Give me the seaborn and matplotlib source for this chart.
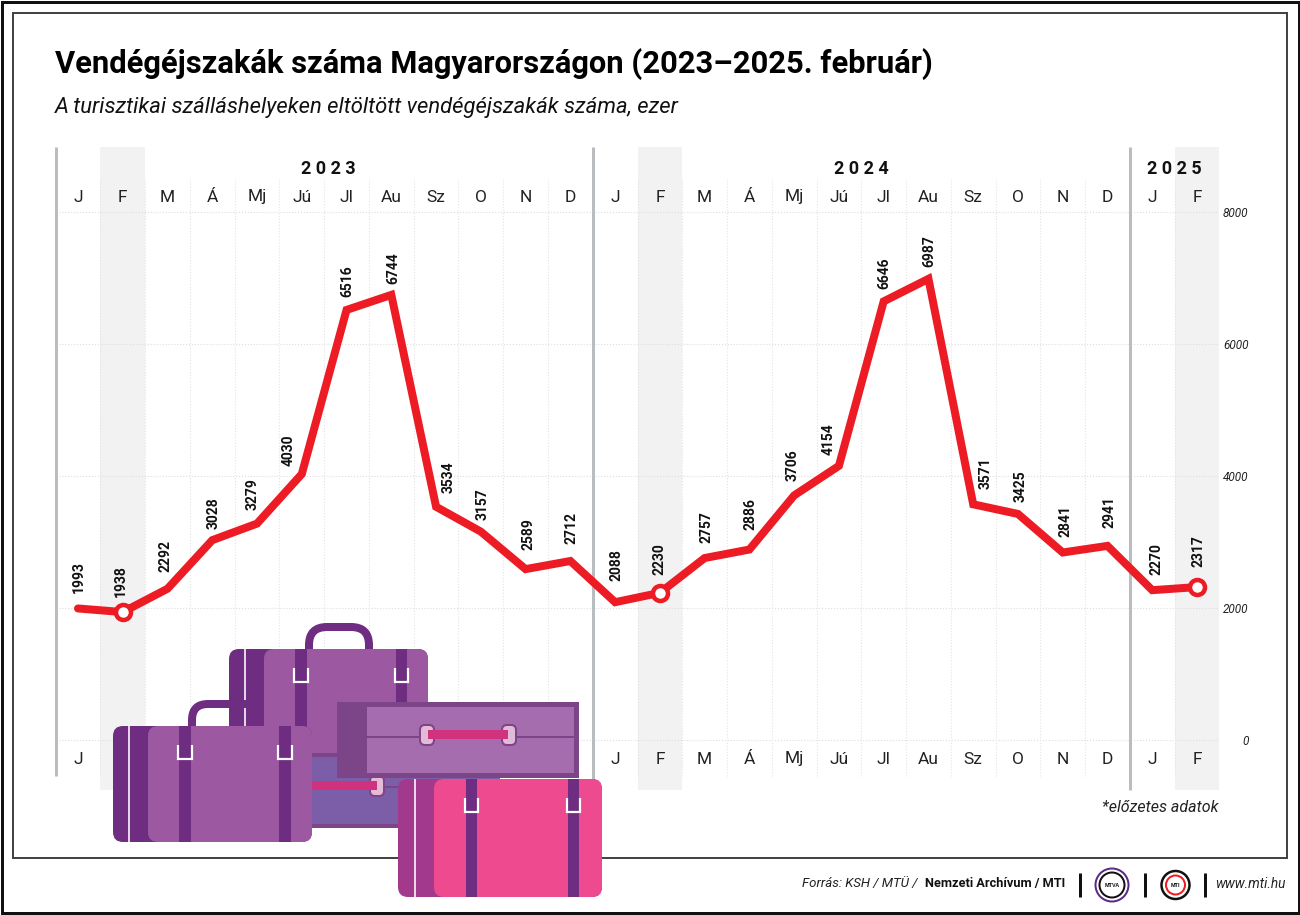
import numpy as np
import pandas as pd
import matplotlib
matplotlib.use('Agg')
import matplotlib.pyplot as plt
from matplotlib.patches import FancyBboxPatch, Rectangle, Circle
import seaborn as sns

W, H = 1300, 915
NARROW = ['Roboto', 'Liberation Sans', 'DejaVu Sans']
SANS = ['Liberation Sans', 'DejaVu Sans']

months = ["J", "F", "M", "Á", "Mj", "Jú", "Jl", "Au", "Sz", "O", "N", "D",
          "J", "F", "M", "Á", "Mj", "Jú", "Jl", "Au", "Sz", "O", "N", "D",
          "J", "F"]
values = [1993, 1938, 2292, 3028, 3279, 4030, 6516, 6744, 3534, 3157, 2589, 2712,
          2088, 2230, 2757, 2886, 3706, 4154, 6646, 6987, 3571, 3425, 2841, 2941,
          2270, 2317]
highlight_months = [1, 13, 25]
year_labels = ["2 0 2 3", "2 0 2 4", "2 0 2 5"]
y_ticks = [0, 2000, 4000, 6000, 8000]

# label shift from its point in pixels (dx, gap above)
label_shift = [(0, 15), (-3, 15), (-3, 17), (0, 11), (-5, 14), (-14, 8), (0, 13), (1, 11),
               (12, 14), (1, 12), (2, 19), (0, 17), (0, 21), (-1, 18), (1, 15), (0, 20),
               (-3, 14), (-11, 11), (0, 12), (0, 12), (11, 15), (2, 12), (2, 15), (1, 18),
               (3, 15), (0, 20)]

RED = "#ED1C24"
DARK = "#6F2D82"
LIGHT = "#9C59A2"


def px(v):
    return v * 72 / 100


sns.set_theme(style="white")
plt.rcParams['font.family'] = SANS

fig = plt.figure(figsize=(13, 9.15), dpi=100, facecolor="white")

# pixel rectangle of the plot, x -0.5..25.5, 0 at y=740 and 8000 at y=212
left, right, top, bottom = 55.6, 1219.4, 147, 790
ax = fig.add_axes([left / W, 1 - bottom / H, (right - left) / W, (bottom - top) / H])
per_px = 8000 / 528
ax.set_xlim(-0.5, 25.5)
ax.set_ylim((740 - bottom) * per_px, (740 - top) * per_px)


def val(y_px):
    return (740 - y_px) * per_px


df = pd.DataFrame({"pos": np.arange(len(values)), "value": values})

for m in highlight_months:
    ax.axvspan(m - 0.5, m + 0.5, color="#F2F2F2", lw=0, zorder=0)

ax.vlines(np.arange(len(values) - 1) + 0.5, val(776), val(178), color="#E3E3E3",
          lw=0.8, linestyles=":", zorder=1)
ax.set_yticks(y_ticks)
ax.set_yticklabels([str(t) for t in y_ticks], fontsize=8.5, style="italic", family=NARROW)
ax.yaxis.tick_right()
ax.tick_params(axis="y", length=0, pad=px(29), colors="#222222")
for t in ax.get_yticklabels():
    t.set_ha("right")
ax.set_xticks([])
ax.grid(axis="y", color="#DEDEDE", lw=0.8, ls=":", zorder=1)
ax.set_axisbelow(True)
sns.despine(ax=ax, left=True, right=True, top=True, bottom=True)

for x, low in zip([-0.5, 11.5, 23.5], [776, 790, 790]):
    ax.vlines(x, val(low), val(top), color="#B9BDBF", lw=px(3), zorder=2, clip_on=False)

sns.lineplot(data=df, x="pos", y="value", ax=ax, color=RED, lw=px(8), sort=False,
             solid_joinstyle="miter", solid_capstyle="round", zorder=4)
ax.set_xlabel("")
ax.set_ylabel("")
sns.scatterplot(data=df[df["pos"].isin(highlight_months)], x="pos", y="value", ax=ax,
                s=px(15) ** 2, color="white", edgecolor=RED, linewidth=px(4.5), zorder=5,
                clip_on=False)
ax.set_xlabel("")
ax.set_ylabel("")

for i, v in enumerate(values):
    dx, gap = label_shift[i]
    ax.annotate(str(v), (i, v), xytext=(px(dx + 1), px(gap)), textcoords="offset points",
                rotation=90, ha="center", va="bottom", fontsize=10, family=NARROW,
                fontweight="bold", color="#111111", zorder=6)

for i, m in enumerate(months):
    ax.text(i, val(197), m, ha="center", va="center", fontsize=12.5, family=NARROW, color="#222222")
    ax.text(i, val(759), m, ha="center", va="center", fontsize=12.5, family=NARROW, color="#222222")

for x, label in zip([5.6, 17.5, 24.5], year_labels):
    ax.text(x, val(169), label, ha="center", va="center", fontsize=13, family=NARROW,
            fontweight="bold", color="#111111")

# everything below is the frame, texts and the artwork, in pixel coordinates
ov = fig.add_axes([0, 0, 1, 1], zorder=10)
ov.set_xlim(0, W)
ov.set_ylim(H, 0)
ov.axis("off")
ov.patch.set_alpha(0)

layer = [10]


def next_z():
    layer[0] += 1
    return layer[0]


def box(x0, y0, x1, y1, color, r=0):
    if r:
        p = FancyBboxPatch((x0, y0), x1 - x0, y1 - y0, boxstyle=f"round,pad=0,rounding_size={r}",
                           fc=color, ec="none", zorder=next_z())
    else:
        p = Rectangle((x0, y0), x1 - x0, y1 - y0, fc=color, ec="none", zorder=next_z())
    ov.add_patch(p)


def stroke(xs, ys, color, w):
    ov.plot(xs, ys, color=color, lw=px(w), solid_capstyle="butt", solid_joinstyle="miter", zorder=next_z())


def handle(x0, x1, y0, y1, r):
    p = FancyBboxPatch((x0, y0), x1 - x0, y1 - y0, boxstyle=f"round,pad=0,rounding_size={r}",
                       fc="none", ec=DARK, lw=px(8), zorder=next_z())
    ov.add_patch(p)


def ring(xc, yc):
    box(xc - 8, yc - 11, xc + 8, yc + 11, "#7B4587", 6)
    box(xc - 6, yc - 9, xc + 6, yc + 9, "#E3BBD9", 4)


def suitcase(x0, y0, x1, y1, line_x, light_x, base, face, straps, clip_y):
    box(x0, y0, x1, y1, base, 10)
    box(light_x, y0, x1, y1, face, 10)
    stroke([line_x, line_x], [y0, y1], "white", 1.6)
    for s0, s1 in straps:
        box(s0, y0, s1, y1, DARK)
        stroke([s0 - 1, s0 - 1, s1 + 1, s1 + 1], [clip_y, clip_y + 14, clip_y + 14, clip_y], "white", 2.2)


# frame
ov.add_patch(Rectangle((13, 13), 1274, 845, fc="none", ec="#444444", lw=px(2), zorder=next_z()))
ov.add_patch(Rectangle((1.5, 1.5), 1297, 911, fc="none", ec="#111111", lw=px(3), zorder=next_z()))

# back case
handle(309, 369, 627, 680, 18)
suitcase(229, 649, 428, 760, 245, 264, DARK, LIGHT, [(295, 307), (396, 407)], 668)

# blue flat case with the handle showing
box(300, 753, 500, 828, "#7B4587")
box(312, 757, 500, 824, "#7B5EA7")
stroke([312, 500], [787, 787], "#7B4587", 2)
ring(377, 786)
box(312, 781, 377, 790, "#D0327E")

# front case
handle(192, 260, 704, 750, 16)
suitcase(113, 726, 312, 842, 129, 148, DARK, LIGHT, [(179, 191), (279, 291)], 745)

# flat case standing on top
box(337, 702, 579, 778, "#7B4587")
box(367, 707, 574, 773, "#A56DAD")
stroke([367, 574], [737, 737], "#7B4587", 2)
ring(427, 735)
ring(509, 735)
box(428, 730, 508, 739, "#D0327E")

# pink case
suitcase(398, 779, 602, 897, 415, 434, "#A2398D", "#EE4A8F", [(466, 477), (568, 579)], 798)

ov.text(55, 64, "Vendégéjszakák száma Magyarországon (2023–2025. február)", ha="left", va="center",
        fontsize=22.2, fontweight="bold", family=NARROW, color="black")
ov.text(55, 107, "A turisztikai szálláshelyeken eltöltött vendégéjszakák száma, ezer", ha="left",
        va="center", fontsize=15.8, style="italic", family=NARROW, color="#111111")
ov.text(1219, 808, "*előzetes adatok", ha="right", va="center", fontsize=11.5, style="italic",
        family=NARROW, color="#222222")

ov.text(918, 884, "Forrás: KSH / MTÜ /", ha="right", va="center", fontsize=9.5, style="italic",
        family=NARROW, color="#222222")
ov.text(1065, 884, "Nemzeti Archívum / MTI", ha="right", va="center", fontsize=9.2, fontweight="bold",
        family=NARROW, color="#111111")
ov.text(1286, 884, "www.mti.hu", ha="right", va="center", fontsize=9.8, style="italic",
        family=NARROW, color="#222222")
for x in [1080, 1145, 1205]:
    stroke([x, x], [873, 897], "#111111", 3)

ov.add_patch(Circle((1112, 885), 16.5, fc="white", ec="#5B2A86", lw=px(2), zorder=next_z()))
ov.add_patch(Circle((1112, 885), 12.5, fc="white", ec="#111111", lw=px(2), zorder=next_z()))
ov.text(1112, 885.5, "MTVA", ha="center", va="center", fontsize=4, fontweight="bold", color="#111111",
        zorder=next_z())
ov.add_patch(Circle((1175.5, 885), 14, fc="white", ec="#111111", lw=px(2.5), zorder=next_z()))
ov.add_patch(Circle((1175.5, 885), 9.5, fc="white", ec=RED, lw=px(2), zorder=next_z()))
ov.text(1175.5, 885.5, "MTI", ha="center", va="center", fontsize=4, fontweight="bold", color="#111111",
        zorder=next_z())

fig.savefig("out.png", dpi=100)
plt.close(fig)
